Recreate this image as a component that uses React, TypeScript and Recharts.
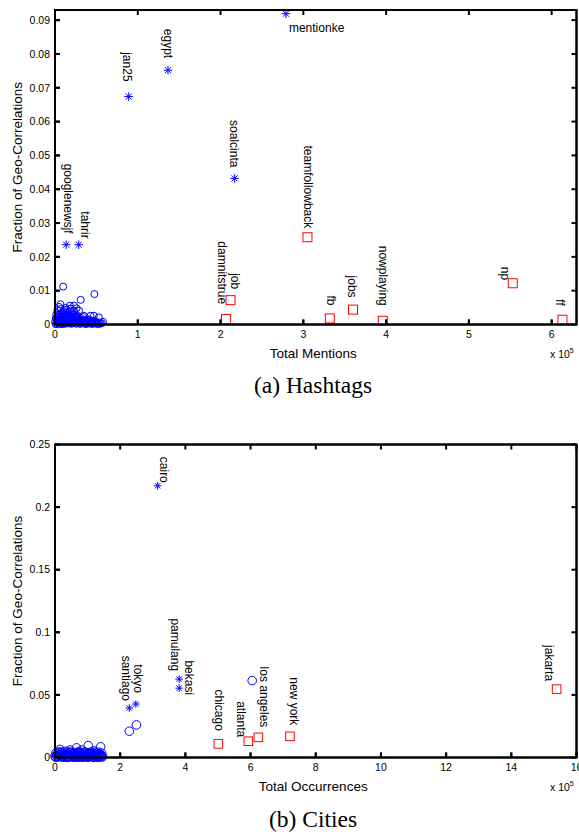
import React from 'react';
import { ScatterChart, Scatter, XAxis, YAxis } from 'recharts';

type Pt = [number, number];
type Named = [string, number, number];

// (a) Hashtags, x in units of 1e5 mentions
const hashtagStars: Named[] = [
  ['googlenewsjf', 0.135, 0.0236],
  ['tahrir', 0.287, 0.0236],
  ['jan25', 0.89, 0.0674],
  ['egypt', 1.365, 0.0752],
  ['soalcinta', 2.17, 0.0432],
  ['mentionke', 2.79, 0.0919],
];
const hashtagSquares: Named[] = [
  ['damnitstrue', 2.065, 0.0016],
  ['job', 2.12, 0.0072],
  ['teamfollowback', 3.05, 0.0258],
  ['fb', 3.32, 0.0018],
  ['jobs', 3.6, 0.0044],
  ['nowplaying', 3.96, 0.0011],
  ['np', 5.53, 0.0122],
  ['ff', 6.13, 0.0014],
];
const hashtagOthers: Pt[] = [
  [0.01, 0.0001], [0.02, 0.0006], [0.02, 0.0014], [0.03, 0.0022], [0.04, 0.0003],
  [0.04, 0.001], [0.05, 0.0018], [0.05, 0.003], [0.06, 0.0006], [0.06, 0.0013],
  [0.07, 0.0024], [0.07, 0.0002], [0.08, 0.0009], [0.08, 0.0017], [0.09, 0.0035],
  [0.09, 0.0004], [0.1, 0.0012], [0.1, 0.0021], [0.11, 0.0028], [0.11, 0.0007],
  [0.12, 0.0002], [0.12, 0.0015], [0.13, 0.001], [0.13, 0.0033], [0.14, 0.0005],
  [0.14, 0.002], [0.15, 0.0013], [0.15, 0.0027], [0.16, 0.0003], [0.16, 0.0009],
  [0.17, 0.0018], [0.17, 0.0038], [0.18, 0.0006], [0.18, 0.0024], [0.19, 0.0012],
  [0.2, 0.0002], [0.2, 0.003], [0.21, 0.0016], [0.21, 0.0008], [0.22, 0.0022],
  [0.23, 0.0004], [0.23, 0.0012], [0.24, 0.0034], [0.25, 0.0018], [0.25, 0.0007],
  [0.26, 0.0002], [0.27, 0.0012], [0.27, 0.0026], [0.28, 0.0005], [0.29, 0.0017],
  [0.3, 0.0009], [0.31, 0.0002], [0.32, 0.0014], [0.33, 0.0006], [0.34, 0.0022],
  [0.35, 0.0003], [0.36, 0.0011], [0.37, 0.0006], [0.38, 0.0001], [0.39, 0.0009],
  [0.4, 0.0015], [0.41, 0.0004], [0.42, 0.0008], [0.44, 0.0002], [0.45, 0.0011],
  [0.46, 0.0005], [0.48, 0.0003], [0.49, 0.0008], [0.51, 0.0002], [0.53, 0.0006],
  [0.55, 0.0003], [0.58, 0.0008],
  [0.0, 0.0008], [0.01, 0.0019], [0.015, 0.003], [0.025, 0.0001], [0.035, 0.0012],
  [0.045, 0.0025], [0.055, 0.0008], [0.065, 0.0019], [0.075, 0.0031], [0.085, 0.0001],
  [0.095, 0.0027], [0.105, 0.0016], [0.115, 0.0004], [0.125, 0.0024], [0.135, 0.0013],
  [0.145, 0.0031], [0.155, 0.0007], [0.165, 0.0021], [0.175, 0.0011], [0.185, 0.003],
  [0.195, 0.0004], [0.205, 0.0023], [0.215, 0.0012], [0.225, 0.0029], [0.235, 0.0007],
  [0.245, 0.0013], [0.255, 0.0024], [0.265, 0.0009], [0.285, 0.0016], [0.295, 0.0003],
  [0.305, 0.002], [0.325, 0.0008], [0.345, 0.0012], [0.365, 0.0003], [0.385, 0.0015],
  [0.405, 0.0006], [0.425, 0.0013], [0.435, 0.0004], [0.455, 0.0002], [0.475, 0.001],
  [0.505, 0.0005], [0.525, 0.0001], [0.565, 0.0004],
  [0.03, 0.0042], [0.07, 0.0046], [0.1, 0.004], [0.14, 0.0044], [0.19, 0.0047],
  [0.23, 0.0041], [0.099, 0.0112], [0.476, 0.009], [0.31, 0.0073], [0.066, 0.006],
  [0.18, 0.0056], [0.23, 0.0056], [0.127, 0.0049], [0.43, 0.0026], [0.47, 0.0026],
  [0.53, 0.0021], [0.29, 0.0041], [0.35, 0.0026], [0.27, 0.0021], [0.05, 0.0052],
  [0.26, 0.0048],
];
const hashtagXTicks = [0, 1, 2, 3, 4, 5, 6];
const hashtagYTicks = [0, 0.01, 0.02, 0.03, 0.04, 0.05, 0.06, 0.07, 0.08, 0.09];

// (b) Cities, x in units of 1e5 occurrences
const cityStars: Named[] = [
  ['cairo', 3.15, 0.217],
  ['santiago', 2.28, 0.0395],
  ['tokyo', 2.48, 0.0427],
  ['pamulang', 3.81, 0.0626],
  ['bekasi', 3.81, 0.0554],
];
const citySquares: Named[] = [
  ['chicago', 5.01, 0.0109],
  ['atlanta', 5.93, 0.013],
  ['los angeles', 6.24, 0.0161],
  ['new york', 7.21, 0.0169],
  ['jakarta', 15.39, 0.0546],
];
const cityOthers: Pt[] = [
  [0.02, 0.0002], [0.05, 0.0015], [0.08, 0.003], [0.1, 0.0006], [0.13, 0.0022],
  [0.16, 0.004], [0.18, 0.001], [0.21, 0.0028], [0.24, 0.0003], [0.27, 0.0017],
  [0.3, 0.0035], [0.33, 0.0008], [0.36, 0.0024], [0.39, 0.0001], [0.42, 0.0013],
  [0.45, 0.0038], [0.48, 0.002], [0.51, 0.0006], [0.54, 0.003], [0.57, 0.0012],
  [0.6, 0.0002], [0.63, 0.0025], [0.66, 0.0009], [0.69, 0.0042], [0.72, 0.0016],
  [0.75, 0.0004], [0.78, 0.0031], [0.81, 0.0011], [0.84, 0.002], [0.87, 0.0003],
  [0.9, 0.0036], [0.93, 0.0014], [0.96, 0.0007], [0.99, 0.0026], [1.02, 0.0002],
  [1.05, 0.0018], [1.08, 0.0033], [1.11, 0.0009], [1.14, 0.0022], [1.17, 0.0004],
  [1.2, 0.0013], [1.23, 0.0029], [1.26, 0.0006], [1.29, 0.0017], [1.32, 0.0002],
  [1.35, 0.0024], [1.38, 0.001], [1.41, 0.0004], [1.44, 0.0015],
  [0.0, 0.001], [0.03, 0.0035], [0.07, 0.0005], [0.11, 0.0045], [0.15, 0.0012],
  [0.2, 0.0005], [0.23, 0.0042], [0.26, 0.0008], [0.32, 0.0022], [0.35, 0.0002],
  [0.38, 0.0046], [0.41, 0.0028], [0.44, 0.0006], [0.5, 0.0043], [0.53, 0.0015],
  [0.56, 0.0003], [0.59, 0.0035], [0.62, 0.0011], [0.68, 0.0022], [0.71, 0.0002],
  [0.74, 0.0045], [0.77, 0.0012], [0.8, 0.0038], [0.83, 0.0004], [0.86, 0.0025],
  [0.89, 0.0009], [0.92, 0.0045], [0.95, 0.0019], [0.98, 0.0003], [1.01, 0.0038],
  [1.04, 0.0009], [1.07, 0.0024], [1.1, 0.0044], [1.13, 0.0014], [1.16, 0.0033],
  [1.19, 0.0001], [1.22, 0.0041], [1.25, 0.002], [1.28, 0.0035], [1.31, 0.0011],
  [1.34, 0.0042], [1.37, 0.0028], [1.4, 0.0019], [1.43, 0.0035], [1.46, 0.0006],
  [0.15, 0.0064], [0.46, 0.006], [0.66, 0.0077], [0.82, 0.006], [1.02, 0.0095],
  [1.2, 0.0052], [1.4, 0.0085], [0.3, 0.005],
  [2.28, 0.021], [2.5, 0.026], [6.05, 0.0614],
];
const cityXTicks = [0, 2, 4, 6, 8, 10, 12, 14, 16];
const cityYTicks = [0, 0.05, 0.1, 0.15, 0.2, 0.25];

// label placement: [dx of text centre, dy of text end] relative to the marker
const hashtagLabelPos: Record<string, [number, number]> = {
  googlenewsjf: [1, -11], tahrir: [5, -6], jan25: [-3, -15], egypt: [-1, -12],
  soalcinta: [-1, -11], teamfollowback: [0, -9], damnitstrue: [-5, -15], job: [4, -11],
  fb: [0, -13], jobs: [-2, -12], nowplaying: [-1, -15], np: [-9, -3], ff: [-3, -14],
  mentionke: [3, 15],
};
const cityLabelPos: Record<string, [number, number]> = {
  cairo: [5, -3], santiago: [-4, -7], tokyo: [1, -11], pamulang: [-5, -8], bekasi: [9, 7],
  chicago: [0, -13], atlanta: [-8, -4], 'los angeles': [5, -10], 'new york': [3, -11],
  jakarta: [-8, -8],
};

const BLUE = '#0000ff';
const RED = '#ff0000';
const INK = '#000';
const FONT = '"Liberation Sans", Arial, sans-serif';
const PLOT_LEFT = 55;
const PLOT_RIGHT = 576.5;
const TICK_LEN = 5;

// panel placement on the page
const TOP_PANEL = { offset: 0, plotTop: 10, plotBottom: 324.5, xMax: 6.3, yMax: 0.093, xTicks: hashtagXTicks, yTicks: hashtagYTicks };
const BOTTOM_PANEL = { offset: 434, plotTop: 10.5, plotBottom: 323.5, xMax: 16, yMax: 0.25, xTicks: cityXTicks, yTicks: cityYTicks };

const toRows = (d: Named[]) => d.map(([name, x, y]) => ({ name, x, y }));
const toPts = (d: Pt[]) => d.map(([x, y]) => ({ x, y }));

function PointLabel({ cx, cy, name, pos }: any) {
  if (!name || !pos[name]) return null;
  const [dx, dy] = pos[name];
  if (name === 'mentionke') {
    return (
      <text x={cx + dx} y={cy + dy} fontSize={12} fontFamily={FONT} dominantBaseline="middle">
        {name}
      </text>
    );
  }
  const tx = cx + dx;
  const ty = cy + dy;
  return (
    <text x={tx} y={ty} transform={`rotate(90, ${tx}, ${ty})`} textAnchor="end"
      dominantBaseline="middle" fontSize={12} fontFamily={FONT}>
      {name}
    </text>
  );
}

const starShape = (r: number, pos: any) => (p: any) => {
  const { cx, cy } = p;
  const d = r * 0.7;
  return (
    <g>
      <g stroke={BLUE} strokeWidth={1}>
        <line x1={cx - r} y1={cy} x2={cx + r} y2={cy} />
        <line x1={cx} y1={cy - r} x2={cx} y2={cy + r} />
        <line x1={cx - d} y1={cy - d} x2={cx + d} y2={cy + d} />
        <line x1={cx - d} y1={cy + d} x2={cx + d} y2={cy - d} />
      </g>
      <PointLabel cx={cx} cy={cy} name={p.payload?.name} pos={pos} />
    </g>
  );
};

const squareShape = (h: number, pos: any) => (p: any) => {
  const { cx, cy } = p;
  return (
    <g>
      <rect x={cx - h} y={cy - h} width={2 * h} height={2 * h} fill="none" stroke={RED} strokeWidth={1} />
      <PointLabel cx={cx} cy={cy} name={p.payload?.name} pos={pos} />
    </g>
  );
};

const circleShape = (r: number) => (p: any) => (
  <circle cx={p.cx} cy={p.cy} r={r} fill="none" stroke={BLUE} strokeWidth={1} />
);

const tickStyle = { fontSize: 10.5, fontFamily: FONT, fill: '#000' };

function Panel(props: any) {
  const { xMax, xTicks, yMax, yTicks, stars, squares, others, pos, marker, xTitle, plotTop, plotBottom } = props;
  const height = 370;
  const cy = (plotTop + plotBottom) / 2;
  return (
    <div style={{ position: 'relative', width: 579, height }}>
      <ScatterChart width={579} height={height}
        margin={{ top: plotTop - 1, right: 579 - PLOT_RIGHT - 1, left: 0, bottom: height - plotBottom - 30 }}>
        <XAxis type="number" dataKey="x" domain={[0, xMax]} ticks={xTicks} height={30} interval={0}
          stroke={INK} strokeWidth={2} tickSize={-5} tickMargin={11} tick={tickStyle} />
        <XAxis xAxisId="top" orientation="top" type="number" dataKey="x" domain={[0, xMax]} ticks={xTicks}
          height={1} interval={0} stroke={INK} strokeWidth={2} tickSize={-5} tick={false} />
        <YAxis type="number" dataKey="y" domain={[0, yMax]} ticks={yTicks} width={PLOT_LEFT} interval={0}
          stroke={INK} strokeWidth={2} tickSize={-5} tickMargin={10} tick={tickStyle}
          tickFormatter={(v: number) => String(v)} />
        <YAxis yAxisId="right" orientation="right" type="number" dataKey="y" domain={[0, yMax]} ticks={yTicks}
          width={1} interval={0} stroke={INK} strokeWidth={2} tickSize={-5} tick={false} />
        <Scatter data={toPts(others)} shape={circleShape(marker.circle)} isAnimationActive={false} />
        <Scatter data={toRows(squares)} shape={squareShape(marker.square, pos)} isAnimationActive={false} />
        <Scatter data={toRows(stars)} shape={starShape(marker.star, pos)} isAnimationActive={false} />
      </ScatterChart>
      <svg width={579} height={height} style={{ position: 'absolute', left: 0, top: 0, pointerEvents: 'none' }}>
        <g fontFamily={FONT} fill="#000">
          <text x={(PLOT_LEFT + PLOT_RIGHT) / 2 - 2.5} y={plotBottom + 33} fontSize={13.5} textAnchor="middle">
            {xTitle}
          </text>
          <text x={PLOT_RIGHT - 26.5} y={plotBottom + 33} fontSize={10.5}>
            x 10<tspan dy={-5} fontSize={7}>5</tspan>
          </text>
          <text x={18} y={cy} transform={`rotate(-90, 18, ${cy})`} textAnchor="middle"
            dominantBaseline="middle" fontSize={13.5}>
            Fraction of Geo-Correlations
          </text>
        </g>
      </svg>
    </div>
  );
}

// box with inward ticks on all four sides, laid over each panel's plot area
function Frame({ offset, plotTop, plotBottom, xMax, yMax, xTicks, yTicks }: any) {
  const top = offset + plotTop;
  const bottom = offset + plotBottom;
  const w = PLOT_RIGHT - PLOT_LEFT;
  const h = bottom - top;
  const px = (v: number) => PLOT_LEFT + (v / xMax) * w;
  const py = (v: number) => bottom - (v / yMax) * h;
  return (
    <g stroke={INK} strokeWidth={2} fill="none">
      <rect x={PLOT_LEFT} y={top} width={w} height={h} />
      {xTicks.map((t: number) => (
        <g key={`x${t}`}>
          <line x1={px(t)} y1={bottom} x2={px(t)} y2={bottom - TICK_LEN} />
          <line x1={px(t)} y1={top} x2={px(t)} y2={top + TICK_LEN} />
        </g>
      ))}
      {yTicks.map((t: number) => (
        <g key={`y${t}`}>
          <line x1={PLOT_LEFT} y1={py(t)} x2={PLOT_LEFT + TICK_LEN} y2={py(t)} />
          <line x1={PLOT_RIGHT} y1={py(t)} x2={PLOT_RIGHT - TICK_LEN} y2={py(t)} />
        </g>
      ))}
    </g>
  );
}

const captionStyle: React.CSSProperties = {
  position: 'absolute', left: 313, transform: 'translateX(-50%)', whiteSpace: 'nowrap',
  fontFamily: '"Liberation Serif", "Times New Roman", serif', fontSize: 23.5, lineHeight: '28px',
};

export default function App() {
  return (
    <div style={{ position: 'absolute', left: 0, top: 0, width: 579, height: 832, background: '#fff' }}>
      <div style={{ position: 'absolute', left: 0, top: TOP_PANEL.offset }}>
        <Panel xMax={TOP_PANEL.xMax} xTicks={hashtagXTicks} yMax={TOP_PANEL.yMax} yTicks={hashtagYTicks}
          stars={hashtagStars} squares={hashtagSquares} others={hashtagOthers} pos={hashtagLabelPos}
          marker={{ circle: 3.5, square: 4.5, star: 4.3 }} xTitle="Total Mentions"
          plotTop={TOP_PANEL.plotTop} plotBottom={TOP_PANEL.plotBottom} />
      </div>
      <div style={{ ...captionStyle, top: 371 }}>(a) Hashtags</div>
      <div style={{ position: 'absolute', left: 0, top: BOTTOM_PANEL.offset }}>
        <Panel xMax={BOTTOM_PANEL.xMax} xTicks={cityXTicks} yMax={BOTTOM_PANEL.yMax} yTicks={cityYTicks}
          stars={cityStars} squares={citySquares} others={cityOthers} pos={cityLabelPos}
          marker={{ circle: 4.3, square: 4.3, star: 3.8 }} xTitle="Total Occurrences"
          plotTop={BOTTOM_PANEL.plotTop} plotBottom={BOTTOM_PANEL.plotBottom} />
      </div>
      <div style={{ ...captionStyle, top: 805 }}>(b) Cities</div>
      <svg width={579} height={832} style={{ position: 'absolute', left: 0, top: 0, pointerEvents: 'none' }}>
        <Frame {...TOP_PANEL} />
        <Frame {...BOTTOM_PANEL} />
      </svg>
    </div>
  );
}
